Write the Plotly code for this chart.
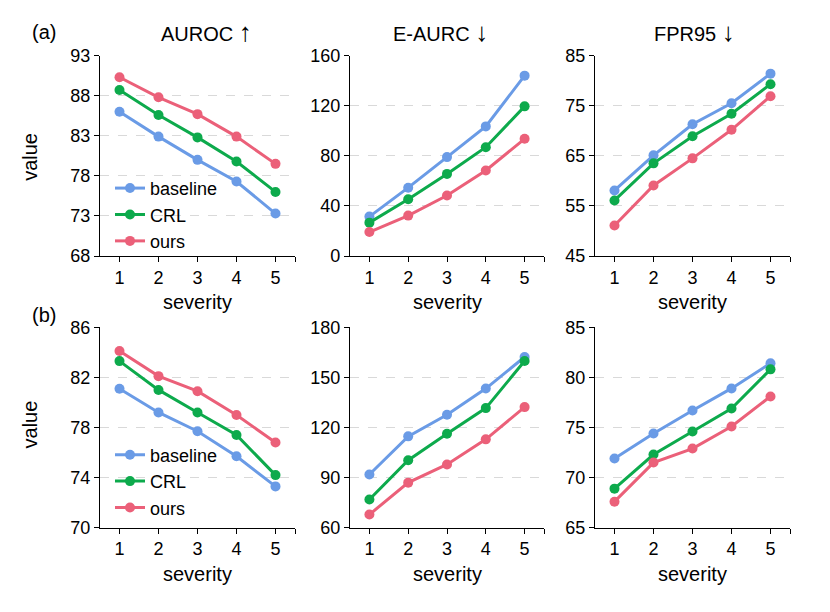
import plotly.graph_objects as go

severity = [1, 2, 3, 4, 5]
series_names = ["baseline", "CRL", "ours"]
colors = {"baseline": "#6A9BE6", "CRL": "#0DAA4C", "ours": "#EB6079"}

# row (a)
a_auroc = {"baseline": [86.0, 82.9, 80.0, 77.3, 73.3],
           "CRL": [88.7, 85.6, 82.8, 79.8, 76.0],
           "ours": [90.3, 87.8, 85.7, 82.9, 79.5]}
a_eaurc = {"baseline": [31.5, 54.6, 79.0, 103.5, 144.0],
           "CRL": [26.7, 45.3, 65.6, 86.9, 119.5],
           "ours": [19.2, 32.3, 48.3, 68.3, 93.6]}
a_fpr95 = {"baseline": [58.1, 65.1, 71.3, 75.5, 81.4],
           "CRL": [56.1, 63.5, 68.9, 73.4, 79.3],
           "ours": [51.1, 59.1, 64.5, 70.2, 76.9]}
# row (b)
b_auroc = {"baseline": [81.1, 79.2, 77.7, 75.7, 73.3],
           "CRL": [83.3, 81.0, 79.2, 77.4, 74.2],
           "ours": [84.1, 82.1, 80.9, 79.0, 76.8]}
b_eaurc = {"baseline": [91.9, 114.7, 127.6, 143.3, 162.2],
           "CRL": [76.9, 100.4, 116.3, 131.6, 159.8],
           "ours": [67.9, 87.0, 97.9, 112.9, 132.2]}
b_fpr95 = {"baseline": [71.9, 74.4, 76.7, 78.9, 81.4],
           "CRL": [68.9, 72.3, 74.6, 76.9, 80.8],
           "ours": [67.6, 71.5, 72.9, 75.1, 78.1]}

titles = ["AUROC", "E-AURC", "FPR95"]
arrows = ["↑", "↓", "↓"]
yticks = [
    [68, 73, 78, 83, 88, 93], [0, 40, 80, 120, 160], [45, 55, 65, 75, 85],
    [70, 74, 78, 82, 86], [60, 90, 120, 150, 180], [65, 70, 75, 80, 85],
]
panels = [a_auroc, a_eaurc, a_fpr95, b_auroc, b_eaurc, b_fpr95]

W, H = 830, 612


def Y(yp):
    # target picture row -> paper row (photo maps paper rows with slight vertical squeeze)
    return (yp - 10.5) / 0.965


col_px = [(100, 295), (350, 544), (595, 790)]
row_px = [(56, 256), (327, 527)]

FONT = "Liberation Sans, Arial, sans-serif"
fig = go.Figure()

for i, data in enumerate(panels):
    r, c = divmod(i, 3)
    ax = "" if i == 0 else str(i + 1)
    for name in series_names:
        fig.add_trace(go.Scatter(
            x=severity, y=data[name], name=name, mode="lines+markers",
            line=dict(color=colors[name], width=3),
            marker=dict(color=colors[name], size=10),
            xaxis="x" + ax, yaxis="y" + ax,
            showlegend=(c == 0),
            legend="legend" if r == 0 else "legend2",
        ))
    x0, x1 = col_px[c]
    y0, y1 = row_px[r]
    tv = yticks[i]
    fig.layout["xaxis" + ax] = dict(
        domain=[x0 / W, x1 / W], anchor="y" + ax, range=[0.5, 5.5],
        tickvals=severity + [5.5], ticktext=[str(s) for s in severity] + [""],
        ticks="outside", ticklen=5, tickcolor="black", tickwidth=1,
        showline=True, linecolor="black", linewidth=1.2, showgrid=False,
        zeroline=False, tickfont=dict(size=18, color="black", family=FONT),
    )
    fig.layout["yaxis" + ax] = dict(
        domain=[1 - Y(y1) / H, 1 - Y(y0) / H], anchor="x" + ax,
        range=[tv[0], tv[-1]], tickvals=tv,
        ticks="outside", ticklen=5, tickcolor="black", tickwidth=1,
        showline=True, linecolor="black", linewidth=1.2,
        showgrid=True, gridcolor="#d9d9d9", griddash="dash", gridwidth=1,
        zeroline=False, tickfont=dict(size=18, color="black", family=FONT),
    )


def ann(text, xp, yp, size=20, angle=0):
    return dict(text=text, x=xp / W, y=1 - Y(yp) / H, xref="paper", yref="paper",
                xanchor="center", yanchor="middle", textangle=angle, showarrow=False,
                font=dict(size=size, family=FONT, color="black"))


annotations = []
title_x = [206, 440, 694]
for c, t in enumerate(titles):
    annotations.append(ann(f"{t} <span style='font-size:26px'>{arrows[c]}</span>", title_x[c], 32))
for c in range(3):
    cx = (col_px[c][0] + col_px[c][1]) / 2
    for yy in (302, 573):
        annotations.append(ann("severity", cx, yy))
for yy in (157, 424):
    annotations.append(ann("value", 30, yy, angle=-90))
for lab, yy in (("(a)", 32), ("(b)", 315)):
    annotations.append(ann(lab, 44, yy))

legend_common = dict(xanchor="left", yanchor="top", bgcolor="rgba(0,0,0,0)",
                     font=dict(size=18, family=FONT, color="black"),
                     tracegroupgap=0, itemwidth=30)
fig.update_layout(
    width=W, height=H, margin=dict(l=0, r=0, t=0, b=0),
    paper_bgcolor="white", plot_bgcolor="white",
    font=dict(family=FONT, color="black"),
    annotations=annotations,
    legend=dict(x=110 / W, y=1 - Y(170) / H, **legend_common),
    legend2=dict(x=110 / W, y=1 - Y(436) / H, **legend_common),
)

fig.write_html("out.html", config={"displayModeBar": False},
               post_script="document.body.style.margin='0';document.body.style.overflow='hidden';")
